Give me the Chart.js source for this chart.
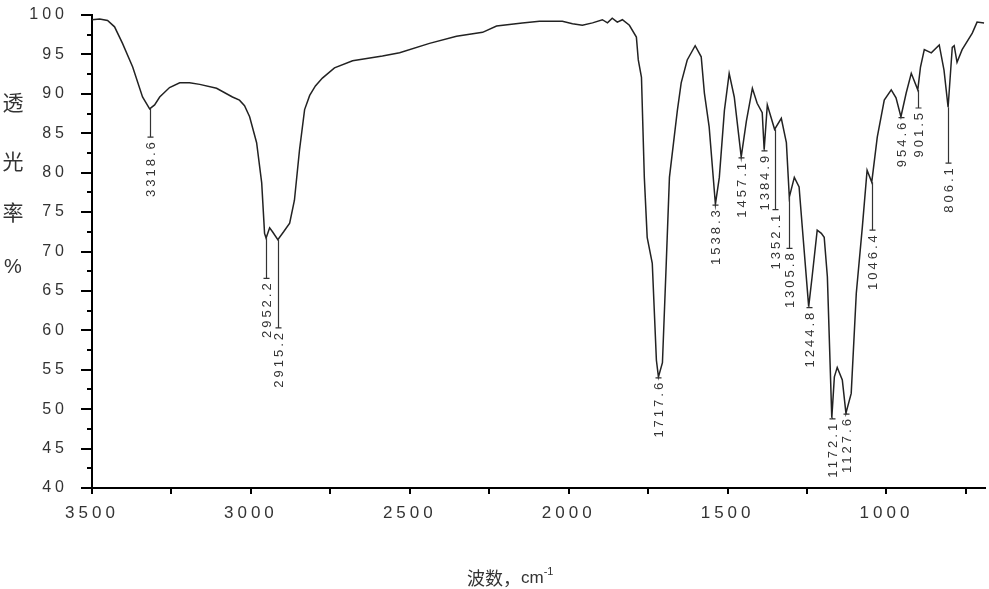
<!DOCTYPE html>
<html>
<head>
<meta charset="utf-8">
<script src="https://cdn.jsdelivr.net/npm/chart.js"></script>
<style>
  html, body { margin: 0; padding: 0; background: #fff; }
  #wrap { width: 989px; height: 589px; }
</style>
</head>
<body>
<div id="wrap"><canvas id="ir-chart" width="989" height="589"></canvas></div>
<script>
// wavenumber (cm-1) and transmittance (%)
const wavenumbers = [
  3500, 3476, 3451, 3429, 3404, 3372, 3341, 3318.6, 3303, 3287, 3256, 3224,
  3193, 3161, 3108, 3058, 3036, 3020, 3004, 2982, 2966, 2957, 2952.2, 2941,
  2932, 2915.2, 2897, 2878, 2863, 2847, 2831, 2815, 2797, 2775, 2737, 2680,
  2586, 2532, 2438, 2353, 2271, 2227, 2146, 2092, 2020, 1988, 1957, 1925,
  1894, 1878, 1863, 1847, 1831, 1809, 1787, 1781, 1771, 1762, 1753, 1737,
  1724, 1717.6, 1705, 1693, 1683, 1668, 1658, 1646, 1627, 1602, 1583, 1573,
  1558, 1538.3, 1526, 1510, 1495, 1479, 1457.1, 1441, 1422, 1407, 1391,
  1384.9, 1375, 1352.1, 1331, 1315, 1305.8, 1290, 1275, 1265, 1244.8, 1234,
  1218, 1205, 1196, 1186, 1172.1, 1164, 1155, 1139, 1127.6, 1111, 1095, 1076,
  1061, 1046.4, 1029, 1007, 985, 970, 954.6, 938, 922, 901.5, 893, 881, 859,
  834, 819, 806.1, 793, 787, 778, 762, 730, 715, 693,
];
const transmittance = [
  99.4, 99.5, 99.3, 98.5, 96.4, 93.4, 89.6, 88.1, 88.6, 89.6, 90.8, 91.4,
  91.4, 91.2, 90.7, 89.6, 89.2, 88.5, 87.1, 83.8, 78.7, 72.3, 71.7, 73.0,
  72.5, 71.5, 72.5, 73.6, 76.5, 82.9, 88.0, 89.8, 91.0, 92.0, 93.3, 94.2,
  94.8, 95.2, 96.4, 97.3, 97.8, 98.6, 99.0, 99.2, 99.2, 98.9, 98.7, 99.0,
  99.4, 99.0, 99.6, 99.1, 99.4, 98.7, 97.2, 94.3, 92.1, 79.4, 71.8, 68.5,
  56.2, 54.1, 55.9, 68.5, 79.4, 84.5, 87.9, 91.4, 94.3, 96.1, 94.7, 90.1,
  85.8, 76.0, 79.4, 87.9, 92.6, 89.6, 82.0, 86.5, 90.7, 88.8, 87.6,
  82.9, 88.6, 85.5, 86.9, 83.8, 76.9, 79.4, 78.2, 73.1, 63.0, 66.8,
  72.7, 72.3, 71.8, 66.8, 48.9, 54.1, 55.3, 53.7, 49.5, 52.0, 64.7, 73.1,
  80.3, 78.8, 84.5, 89.2, 90.5, 89.5, 87.1, 90.1, 92.6, 90.5, 93.4, 95.6, 95.2,
  96.2, 93.0, 88.3, 95.9, 96.1, 94.0, 95.6, 97.7, 99.1, 99.0,
];

// peak annotations: position, printed label, transmittance where the label text starts
// (null = label sits right at the band minimum)
const peakPositions = [3318.6, 2952.2, 2915.2, 1717.6, 1538.3, 1457.1, 1384.9, 1352.1, 1305.8, 1244.8, 1172.1, 1127.6, 1046.4, 954.6, 901.5, 806.1];
const peakLabels = ["3318.6", "2952.2", "2915.2", "1717.6", "1538.3", "1457.1", "1384.9", "1352.1", "1305.8", "1244.8", "1172.1", "1127.6", "1046.4", "954.6", "901.5", "806.1"];
const peakLabelStart = [84.5, 66.6, 60.3, null, null, null, null, 75.3, 70.4, null, null, null, 72.7, null, 88.2, 81.2];

// axis ticks (labels only on the long ones)
const xTickValues = [3500, 3250, 3000, 2750, 2500, 2250, 2000, 1750, 1500, 1250, 1000, 750];
const xTickLabels = [3500, 3000, 2500, 2000, 1500, 1000];
const yTickValues = [40, 42.5, 45, 47.5, 50, 52.5, 55, 57.5, 60, 62.5, 65, 67.5, 70, 72.5, 75, 77.5, 80, 82.5, 85, 87.5, 90, 92.5, 95, 97.5, 100];
const yTickLabels = [40, 45, 50, 55, 60, 65, 70, 75, 80, 85, 90, 95, 100];

const yTitleChars = ["透", "光", "率", "%"];
const xTitleSup = "-1";

const irDecor = {
  id: "irDecor",
  beforeDraw(chart) {
    chart.ctx.letterSpacing = "4px";
  },
  afterDraw(chart) {
    const ctx = chart.ctx;
    const xs = chart.scales.x;
    const ys = chart.scales.y;
    const area = chart.chartArea;
    ctx.save();
    ctx.strokeStyle = "#000";
    ctx.lineWidth = 2;
    // y ticks: long at every 5, short in between
    ys.ticks.forEach((t) => {
      const py = Math.round(ys.getPixelForValue(t.value));
      const len = yTickLabels.includes(t.value) ? 11 : 5;
      ctx.beginPath();
      ctx.moveTo(area.left - len, py);
      ctx.lineTo(area.left, py);
      ctx.stroke();
    });
    // x ticks every 250
    xs.ticks.forEach((t) => {
      const px = Math.round(xs.getPixelForValue(t.value));
      ctx.beginPath();
      ctx.moveTo(px, area.bottom);
      ctx.lineTo(px, area.bottom + 6);
      ctx.stroke();
    });

    // axis titles
    ctx.letterSpacing = "0px";
    ctx.fillStyle = "#333";
    ctx.textAlign = "center";
    ctx.textBaseline = "middle";
    const ySlots = [102, 161, 212, 267];
    yTitleChars.forEach((c, i) => {
      ctx.font = c === "%" ? "20px 'Liberation Sans'" : "21px 'Noto Sans CJK SC'";
      ctx.fillText(c, 13, ySlots[i]);
    });
    ctx.textAlign = "left";
    ctx.font = "18px 'Noto Sans CJK SC'";
    ctx.fillText("波数，", 467, 578);
    let tx = 467 + ctx.measureText("波数，").width;
    ctx.font = "17px 'Liberation Sans'";
    ctx.fillText("cm", tx, 578);
    tx += ctx.measureText("cm").width;
    ctx.font = "11px 'Liberation Sans'";
    ctx.fillText(xTitleSup, tx, 572);

    // peak markers
    ctx.strokeStyle = "#333";
    ctx.lineWidth = 1.2;
    ctx.font = "13px 'Liberation Sans'";
    ctx.letterSpacing = "3px";
    peakPositions.forEach((w, i) => {
      const idx = wavenumbers.indexOf(w);
      const px = Math.round(xs.getPixelForValue(w)) + 0.5;
      const pMin = ys.getPixelForValue(transmittance[idx]);
      const start = peakLabelStart[i] === null ? pMin + 1 : ys.getPixelForValue(peakLabelStart[i]);
      ctx.beginPath();
      ctx.moveTo(px, pMin);
      ctx.lineTo(px, start);
      ctx.moveTo(px - 3, start);
      ctx.lineTo(px + 3, start);
      ctx.stroke();
      ctx.save();
      ctx.translate(px + 1, start + 2);
      ctx.rotate(-Math.PI / 2);
      ctx.textAlign = "right";
      ctx.textBaseline = "middle";
      ctx.fillText(peakLabels[i], 0, 0);
      ctx.restore();
    });
    ctx.restore();
  },
};

new Chart(document.getElementById("ir-chart"), {
  type: "line",
  plugins: [irDecor],
  data: {
    datasets: [
      {
        label: "IR",
        data: wavenumbers.map((w, i) => ({ x: w, y: transmittance[i] })),
        borderColor: "#222",
        borderWidth: 1.5,
        pointRadius: 0,
        tension: 0,
        fill: false,
      },
    ],
  },
  options: {
    responsive: false,
    animation: false,
    layout: {
      padding: { left: 30, right: 4, top: 15, bottom: 0 },
    },
    plugins: {
      legend: { display: false },
      tooltip: { enabled: false },
    },
    scales: {
      x: {
        type: "linear",
        reverse: true,
        min: 690,
        max: 3500,
        afterBuildTicks: (scale) => {
          scale.ticks = xTickValues.map((v) => ({ value: v }));
        },
        afterFit: (scale) => {
          scale.height = 101;
          scale.paddingLeft = 0;
          scale.paddingRight = 0;
        },
        border: { display: true, color: "#000", width: 2 },
        grid: { display: false, drawTicks: false },
        ticks: {
          autoSkip: false,
          maxRotation: 0,
          padding: 15,
          color: "#333",
          font: { family: "Liberation Sans", size: 17 },
          callback: (v) => (xTickLabels.includes(v) ? String(v) : ""),
        },
      },
      y: {
        min: 40,
        max: 100,
        afterBuildTicks: (scale) => {
          scale.ticks = yTickValues.map((v) => ({ value: v }));
        },
        afterFit: (scale) => {
          scale.width = 62;
          scale.paddingTop = 0;
          scale.paddingBottom = 0;
        },
        border: { display: true, color: "#000", width: 2 },
        grid: { display: false, drawTicks: false },
        ticks: {
          autoSkip: false,
          padding: 24,
          color: "#333",
          font: { family: "Liberation Sans", size: 16 },
          callback: (v) => (yTickLabels.includes(v) ? String(v) : ""),
        },
      },
    },
  },
});
</script>
</body>
</html>
